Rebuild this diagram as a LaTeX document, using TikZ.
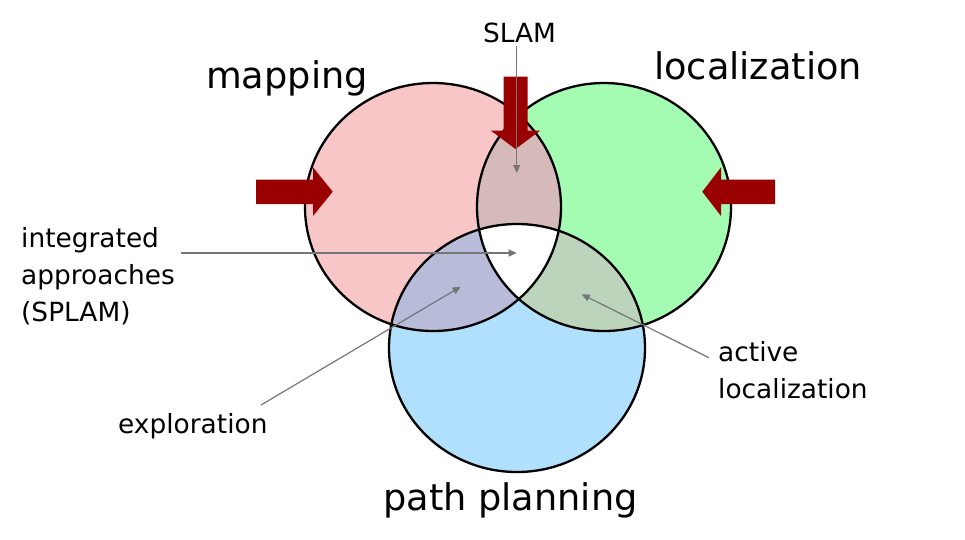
\documentclass[tikz,border=0pt]{standalone}
\usepackage{fontspec}
\setmainfont{DejaVu Sans}
\usetikzlibrary{arrows.meta}
\definecolor{mapfill}{RGB}{248,198,198}
\definecolor{locfill}{RGB}{164,252,178}
\definecolor{pathfill}{RGB}{177,224,252}
\definecolor{maplocfill}{RGB}{214,186,186}
\definecolor{mappathfill}{RGB}{184,188,216}
\definecolor{locpathfill}{RGB}{188,212,188}
\definecolor{darkred}{RGB}{153,0,0}
\definecolor{pointergray}{RGB}{118,118,118}
\tikzset{>=latex}
\tikzset{
  ring/.style={line width=2.3pt, black},
  pointer/.style={-{Triangle[length=8pt,width=7pt]}, line width=1.2pt, pointergray},
  bigarrow/.style={fill=darkred, draw=none},
  biglabel/.style={font=\fontsize{36.7}{40}\selectfont, inner sep=0pt},
  smalllabel/.style={font=\fontsize{26.4}{37}\selectfont, inner sep=0pt, align=left}
}
\def\mapcircle{(433,207) ellipse [x radius=128, y radius=124]}
\def\loccircle{(604,207) ellipse [x radius=127, y radius=124]}
\def\pathcircle{(517,348) ellipse [x radius=128, y radius=124]}

\begin{document}
\begin{tikzpicture}[x=1pt,y=-1pt]
  \useasboundingbox (0,0) rectangle (965,539);

  % circles and their overlaps
  \fill[mapfill] \mapcircle;
  \fill[locfill] \loccircle;
  \fill[pathfill] \pathcircle;
  \begin{scope}
    \clip \mapcircle;
    \fill[maplocfill] \loccircle;
    \fill[mappathfill] \pathcircle;
  \end{scope}
  \begin{scope}
    \clip \loccircle;
    \fill[locpathfill] \pathcircle;
  \end{scope}
  \begin{scope}
    \clip \mapcircle;
    \clip \loccircle;
    \fill[white] \pathcircle;
  \end{scope}
  \draw[ring] \mapcircle;
  \draw[ring] \loccircle;
  \draw[ring] \pathcircle;

  % big arrows
  \fill[bigarrow] (256,179.5) -- (313,179.5) -- (313,167.3) -- (332.7,191.7)
    -- (313,216) -- (313,204) -- (256,204) -- cycle;
  \fill[bigarrow] (775,179.5) -- (721,179.5) -- (721,167.3) -- (702.3,191.7)
    -- (721,216) -- (721,204) -- (775,204) -- cycle;
  \fill[bigarrow] (503.5,76.7) -- (527.5,76.7) -- (527.5,130.7) -- (540,130.7)
    -- (515.5,149) -- (491,130.7) -- (503.5,130.7) -- cycle;

  % labels
  \node[biglabel, anchor=base west] (mapping) at (206,88) {mapping};
  \node[biglabel, anchor=base west] (localization) at (654,79) {localization};
  \node[biglabel, anchor=base west] (planning) at (383,510) {path planning};
  \node[smalllabel, anchor=base] (slam) at (519.5,42) {SLAM};
  \node[smalllabel, anchor=north west] (splam) at (21,227) {integrated\\approaches\\(SPLAM)};
  \node[smalllabel, anchor=base west] (exploration) at (118,433) {exploration};
  \node[smalllabel, anchor=north west] (active) at (718,341) {active\\localization};

  % pointers
  \coordinate (slamfoot) at (516.7,46);
  \coordinate (slamtip) at (516.7,173);
  \coordinate (splamfoot) at (181,253);
  \coordinate (splamtip) at (516.7,253);
  \coordinate (explfoot) at (261,405);
  \coordinate (expltip) at (460.7,286.7);
  \coordinate (activefoot) at (709,357.7);
  \coordinate (activetip) at (581.7,294.3);
  \draw[pointer] (slamfoot) -- (slamtip);
  \draw[pointer] (splamfoot) -- (splamtip);
  \draw[pointer] (explfoot) -- (expltip);
  \draw[pointer] (activefoot) -- (activetip);
\end{tikzpicture}
\end{document}
